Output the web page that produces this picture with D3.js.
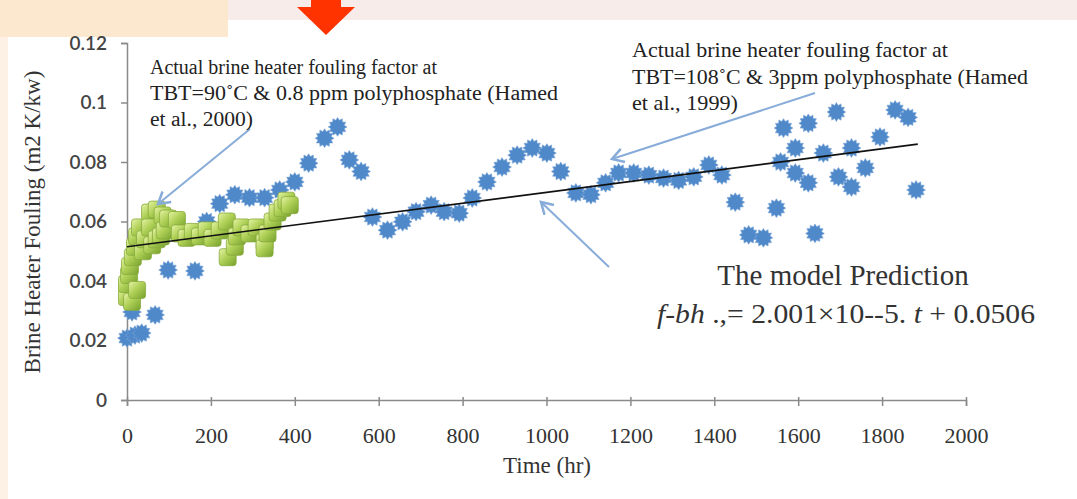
<!DOCTYPE html>
<html>
<head>
<meta charset="utf-8">
<script src="https://cdn.jsdelivr.net/npm/d3@7"></script>
<style>
  body { margin: 0; background: #fdf6ee; }
  svg { display: block; }
</style>
</head>
<body>
<svg id="chart" width="1077" height="499"></svg>
<script>
// blue series: TBT=108°C & 3ppm (Hamed et al., 1999)
const blueT = [0, 12, 19, 35, 67, 98, 162, 190, 221, 257, 292, 328, 364, 400, 433, 471, 502, 530, 558, 585,
  621, 657, 689, 725, 756, 792, 823, 858, 894, 930, 966, 1001, 1034, 1070, 1106, 1141, 1172, 1208, 1244, 1279,
  1315, 1351, 1387, 1418, 1450, 1482, 1517, 1548, 1558, 1565, 1593, 1593, 1624, 1624, 1640, 1660, 1691, 1696,
  1727, 1727, 1760, 1795, 1831, 1862, 1881];
const blueF = [0.0208, 0.0296, 0.0218, 0.0225, 0.0286, 0.0437, 0.0434, 0.060, 0.066, 0.069, 0.068, 0.068, 0.0706,
  0.0733, 0.0796, 0.088, 0.0918, 0.0807, 0.0768, 0.0615, 0.0571, 0.0599, 0.0633, 0.0655, 0.0633, 0.0628, 0.0679,
  0.0733, 0.0783, 0.0823, 0.0847, 0.083, 0.0768, 0.0696, 0.069, 0.073, 0.0763, 0.0763, 0.0756, 0.0746, 0.0738,
  0.075, 0.079, 0.0756, 0.0665, 0.0555, 0.0545, 0.0645, 0.080, 0.0914, 0.0847, 0.0763, 0.073, 0.093, 0.056,
  0.083, 0.0968, 0.075, 0.0847, 0.0716, 0.078, 0.0884, 0.0975, 0.095, 0.0706];

// green series: TBT=90°C & 0.8 ppm (Hamed et al., 2000)
const greenT = [0, 0, 5, 7, 12, 14, 19, 24, 24, 31, 38, 43, 55, 55, 60, 71, 71, 81, 85, 90, 98, 119, 126, 142,
  157, 174, 190, 204, 221, 238, 240, 257, 262, 273, 292, 309, 328, 328, 335, 347, 359, 371, 380, 388];
const greenF = [0.0346, 0.039, 0.042, 0.045, 0.033, 0.048, 0.0515, 0.055, 0.037, 0.058, 0.050, 0.054, 0.063,
  0.058, 0.052, 0.064, 0.054, 0.055, 0.062, 0.057, 0.061, 0.0605, 0.056, 0.0545, 0.0565, 0.055, 0.057, 0.0545,
  0.057, 0.060, 0.048, 0.0515, 0.055, 0.058, 0.056, 0.058, 0.053, 0.051, 0.056, 0.060, 0.063, 0.0645, 0.067, 0.0655];

// model prediction line
const trendT = [0, 1885];
const trendF = [0.0515, 0.0860];

const xTicks = [0, 200, 400, 600, 800, 1000, 1200, 1400, 1600, 1800, 2000];
const yTicks = [0, 0.02, 0.04, 0.06, 0.08, 0.1, 0.12];

const svg = d3.select("#chart");
const serif = "'Liberation Serif', 'Times New Roman', serif";

// slide background pieces
svg.append("rect").attr("x", 0).attr("y", 0).attr("width", 1077).attr("height", 499).attr("fill", "#fcf1e4");
svg.append("rect").attr("x", 228).attr("y", 0).attr("width", 849).attr("height", 20).attr("fill", "#f8ecea");
svg.append("rect").attr("x", 0).attr("y", 0).attr("width", 228).attr("height", 37).attr("fill", "#fbe8cf");
svg.append("rect").attr("x", 8).attr("y", 37).attr("width", 1069).attr("height", 462).attr("fill", "#fff");
svg.append("rect").attr("x", 228).attr("y", 20).attr("width", 849).attr("height", 479).attr("fill", "#fff");

// red arrow at the top
svg.append("path")
  .attr("d", d3.line()([[311, 0], [341, 0], [341, 7], [355, 7], [326, 35], [297, 7], [311, 7]]) + "Z")
  .attr("fill", "#ff3300");

const x = d3.scaleLinear().domain([0, 2000]).range([127, 966]);
const y = d3.scaleLinear().domain([0, 0.12]).range([400, 43]);

const defs = svg.append("defs");
const grad = defs.append("linearGradient").attr("id", "gsq")
  .attr("x1", "0").attr("y1", "0").attr("x2", "1").attr("y2", "1");
grad.append("stop").attr("offset", "0%").attr("stop-color", "#e6f4a6");
grad.append("stop").attr("offset", "45%").attr("stop-color", "#b0d158");
grad.append("stop").attr("offset", "100%").attr("stop-color", "#76a02c");

defs.append("marker").attr("id", "ah")
  .attr("viewBox", "0 0 14 14").attr("refX", 12).attr("refY", 7)
  .attr("markerWidth", 16).attr("markerHeight", 16).attr("orient", "auto")
  .attr("markerUnits", "userSpaceOnUse")
  .append("path").attr("d", "M2,1 L12,7 L2,13")
  .attr("fill", "none").attr("stroke", "#88acd9").attr("stroke-width", 2.2);

// axes
const xAxis = svg.append("g").attr("transform", "translate(0,400)")
  .call(d3.axisBottom(x).tickValues(xTicks).tickSize(6).tickPadding(21).tickFormat(d3.format("d")));
xAxis.select(".domain").attr("stroke", "#8a8a8a").attr("stroke-width", 1.5);
xAxis.selectAll(".tick line").attr("stroke", "#8a8a8a").attr("stroke-width", 1.5).attr("y1", -3);
xAxis.selectAll(".tick text").attr("font-family", serif).attr("font-size", 22).attr("fill", "#333");

const yAxis = svg.append("g").attr("transform", "translate(127,0)")
  .call(d3.axisLeft(y).tickValues(yTicks).tickSize(6).tickPadding(14).tickFormat(d => d === 0 ? "0" : String(+d.toFixed(2))));
yAxis.select(".domain").attr("stroke", "#8a8a8a").attr("stroke-width", 1.5);
yAxis.selectAll(".tick line").attr("stroke", "#8a8a8a").attr("stroke-width", 1.5);
yAxis.selectAll(".tick text").attr("font-family", "Lato, 'Open Sans', sans-serif").attr("font-size", 19)
  .attr("font-weight", 600).attr("fill", "#444");

svg.append("text").attr("x", 547).attr("y", 473).attr("text-anchor", "middle")
  .attr("font-family", serif).attr("font-size", 23).attr("fill", "#333").text("Time (hr)");
svg.append("text").attr("transform", "translate(40,222) rotate(-90)").attr("text-anchor", "middle")
  .attr("font-family", serif).attr("font-size", 23).attr("fill", "#333")
  .text("Brine Heater Fouling (m2 K/kw)");

// blue star markers
const starPts = d3.range(24).map(i => [i * Math.PI / 12, i % 2 ? 6.8 : 9.4]);
const star = d3.lineRadial().curve(d3.curveLinearClosed)(starPts);
svg.append("g").selectAll("path").data(blueT).join("path")
  .attr("transform", (d, i) => `translate(${x(d)},${y(blueF[i])})`)
  .attr("d", star).attr("fill", "#4f89c9").attr("stroke", "#77a3d6").attr("stroke-width", 0.6);

// green rounded squares
svg.append("g").selectAll("rect").data(greenT).join("rect")
  .attr("x", d => x(d) - 8.5).attr("y", (d, i) => y(greenF[i]) - 8.5)
  .attr("width", 17).attr("height", 17).attr("rx", 3)
  .attr("fill", "url(#gsq)").attr("stroke", "#86ab3e").attr("stroke-width", 0.8);

// model line
svg.append("path")
  .attr("d", d3.line().x(d => x(d)).y((d, i) => y(trendF[i]))(trendT))
  .attr("stroke", "#111").attr("stroke-width", 1.6).attr("fill", "none");

// annotation arrows
const arrows = [
  [[250, 129], [158, 204]],
  [[815, 93], [612, 159]],
  [[609, 267], [541, 202]]
];
svg.append("g").selectAll("path").data(arrows).join("path")
  .attr("d", d => d3.line()(d)).attr("stroke", "#88acd9").attr("stroke-width", 2)
  .attr("fill", "none").attr("marker-end", "url(#ah)");

// annotation texts, widths matched to the picture
const note = (x0, y0, lines, widths, size, lh) => {
  const t = svg.append("text").attr("font-family", serif).attr("font-size", size).attr("fill", "#222");
  lines.forEach((l, i) => t.append("tspan").attr("x", x0).attr("y", y0 + i * lh)
    .attr("textLength", widths[i]).attr("lengthAdjust", "spacingAndGlyphs").text(l));
};
note(150, 74, ["Actual brine heater fouling factor at", "TBT=90\u02daC & 0.8 ppm polyphosphate (Hamed", "et al., 2000)"],
  [287, 408, 103], 20.5, 26);
note(632, 57, ["Actual brine heater fouling factor at", "TBT=108\u02daC & 3ppm polyphosphate (Hamed", "et al., 1999)"],
  [316, 396, 106], 22, 26.5);

svg.append("text").attr("x", 843).attr("y", 285).attr("text-anchor", "middle")
  .attr("font-family", serif).attr("font-size", 29).attr("fill", "#333").text("The model Prediction");

const eq = svg.append("text").attr("x", 657).attr("y", 323)
  .attr("textLength", 378).attr("lengthAdjust", "spacingAndGlyphs")
  .attr("font-family", serif).attr("font-size", 28).attr("fill", "#333");
eq.append("tspan").attr("font-style", "italic").text("f-bh");
eq.append("tspan").text(" .,= 2.001\u00d710--5. ");
eq.append("tspan").attr("font-style", "italic").text("t");
eq.append("tspan").text(" + 0.0506");
</script>
</body>
</html>
